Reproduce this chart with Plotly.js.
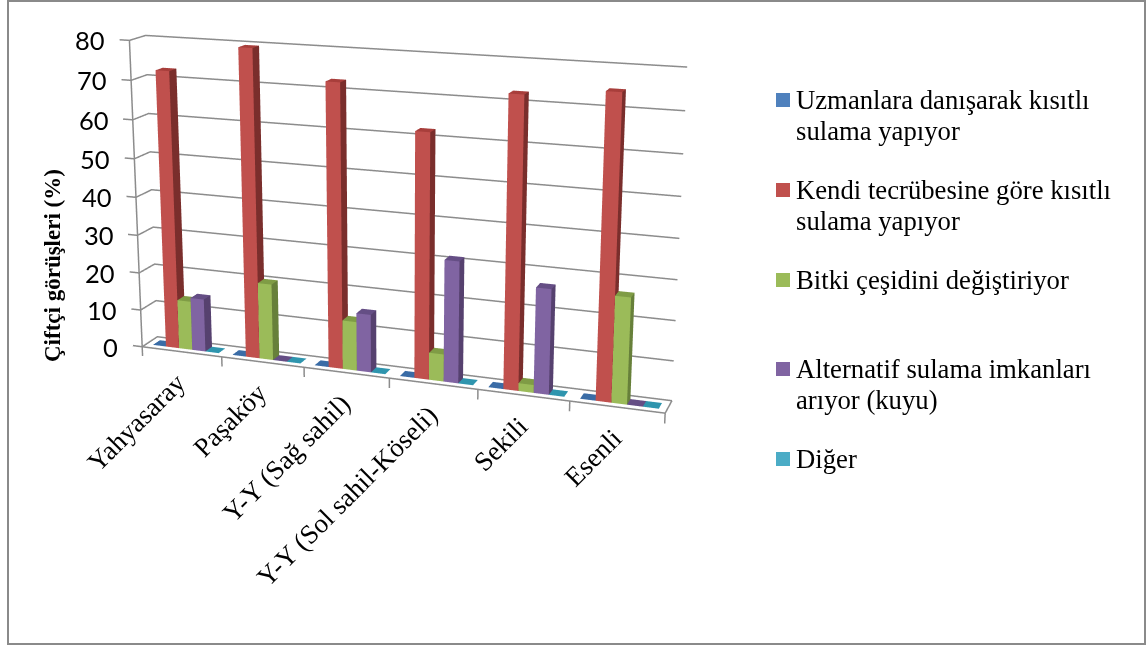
<!DOCTYPE html>
<html><head><meta charset="utf-8"><script src="https://cdn.plot.ly/plotly-3.0.1.min.js"></script>
<style>html,body{margin:0;background:#fff;overflow:hidden;width:1146px;height:646px}#c{position:absolute;left:0;top:-474px;width:1146px;height:1380px}</style></head><body><div id="c"></div>
<script>
const categories=["Yahyasaray","Paşaköy","Y-Y (Sağ sahil)","Y-Y (Sol sahil-Köseli)","Sekili","Esenli"];
const seriesNames=["Uzmanlara danışarak kısıtlı sulama yapıyor","Kendi tecrübesine göre kısıtlı sulama yapıyor","Bitki çeşidini değiştiriyor","Alternatif sulama imkanları arıyor (kuyu)","Diğer"];
const legendLines=[["Uzmanlara danışarak kısıtlı","sulama yapıyor"],["Kendi tecrübesine göre kısıtlı","sulama yapıyor"],["Bitki çeşidini değiştiriyor"],["Alternatif sulama imkanları","arıyor (kuyu)"],["Diğer"]];
const legendY=[100,190,280,369,459];
const colors=["#4F81BD","#C0504D","#9BBB59","#8064A2","#4BACC6"];
const sideColors=["#2F5A8C","#7A2E2C","#67803A","#56416F","#2C8299"];
const topColors=["#3A6CA6","#A83E3B","#7F9C45","#654E85","#2F95AE"];
const zTicks=[0,10,20,30,40,50,60,70,80];
const xBounds=[0,1,2,3,4,5,6];
const v0=[0,0,0,0,0,0];
const v1=[72.5,79.5,72.5,62,72.5,74.5];
const v2=[13,20,12.7,7,2,26.5];
const v3=[14,0,15,31,26.5,0];
const v4=[0,0,0,0,0,0];
const vals=[v0,v1,v2,v3,v4];
const H=1380,TOP=-474;
const py=p=>1-(p-TOP)/H;
const GRID='#8c8c8c';
const traces=[];
vals.forEach((vv,s)=>{
  const x=[],y=[],z=[],i=[],j=[],k=[],fc=[];
  vv.forEach((h,c)=>{
    const b=x.length,x0=c+0.085+s*0.166,x1=x0+0.166,y0=0.27,y1=0.73;
    [[x0,y0,0],[x1,y0,0],[x1,y1,0],[x0,y1,0],[x0,y0,h],[x1,y0,h],[x1,y1,h],[x0,y1,h]].forEach(p=>{x.push(p[0]);y.push(p[1]);z.push(p[2]);});
    const faces=[[[4,5,6],topColors[s]],[[4,6,7],topColors[s]],[[0,1,5],colors[s]],[[0,5,4],colors[s]],[[1,2,6],sideColors[s]],[[1,6,5],sideColors[s]]];
    faces.forEach(t=>{i.push(b+t[0][0]);j.push(b+t[0][1]);k.push(b+t[0][2]);fc.push(t[1]);});
  });
  traces.push({type:'mesh3d',x,y,z,i,j,k,facecolor:fc,flatshading:true,name:seriesNames[s],showlegend:false,showscale:false,hoverinfo:'name',
    lighting:{ambient:1,diffuse:0,specular:0,roughness:1,fresnel:0}});
});
// wall grid, floor edges and tick marks, from the axis values
const gx=[],gy=[],gz=[];
const seg=pts=>{pts.forEach(p=>{gx.push(p[0]);gy.push(p[1]);gz.push(p[2]);});gx.push(null);gy.push(null);gz.push(null);};
zTicks.forEach(t=>seg([[-0.12,0,t],[0,0,t],[0,1,t],[6,1,t]]));
seg([[0,0,0],[0,0,80]]);
seg([[0,0,0],[6,0,0],[6,1,0]]);
xBounds.forEach(b=>seg([[b,0,0],[b,0,-2.6]]));
traces.push({type:'scatter3d',mode:'lines',x:gx,y:gy,z:gz,line:{color:GRID,width:3},showlegend:false,hoverinfo:'skip',connectgaps:false});
const ax={showbackground:false,showspikes:false,zeroline:false,showgrid:false,showline:false,showticklabels:false,ticks:'',title:{text:''}};
const sceneAnn=[];
zTicks.forEach(t=>sceneAnn.push({x:0,y:0,z:t,text:String(t),showarrow:false,xanchor:'right',yanchor:'middle',xshift:-22,font:{family:'Lato,sans-serif',size:25.5,color:'#000'}}));
categories.forEach((c,n)=>sceneAnn.push({x:n+0.5,y:0,z:0,text:c,showarrow:false,textangle:-45,xanchor:'right',yanchor:'top',xshift:13,yshift:-13,font:{family:'"Liberation Serif",serif',size:27,color:'#000'}}));
const annotations=[{text:'<b>Çiftçi görüşleri (%)</b>',xref:'paper',yref:'paper',x:52/1146,y:py(266),xanchor:'center',yanchor:'middle',showarrow:false,textangle:-90,font:{size:23}}];
const shapes=[{type:'rect',xref:'paper',yref:'paper',x0:8/1146,x1:1145/1146,y0:py(644),y1:py(1),line:{color:'#8a8a8a',width:2}}];
legendLines.forEach((lines,n)=>{
  shapes.push({type:'rect',xref:'paper',yref:'paper',x0:776/1146,x1:790/1146,y0:py(legendY[n]+7),y1:py(legendY[n]-7),fillcolor:colors[n],line:{width:0}});
  lines.forEach((t,m)=>annotations.push({text:t,xref:'paper',yref:'paper',x:794/1146,y:py(legendY[n]+m*31),xanchor:'left',yanchor:'middle',showarrow:false,font:{size:26.7}}));
});
const layout={width:1146,height:H,margin:{l:0,r:0,t:0,b:0},paper_bgcolor:'#fff',showlegend:false,
 font:{family:'"Liberation Serif",serif',color:'#000'},
 scene:{domain:{x:[0,792/1146],y:[0,1]},aspectmode:'manual',aspectratio:{x:2.03*6.14/6,y:0.13,z:1.19*83/80},
  camera:{eye:{x:1.98,y:-5.45,z:1.57},center:{x:0.02,y:0,z:0.02},up:{x:0,y:0,z:1},projection:{type:'perspective'}},
  xaxis:{...ax,range:[-0.12,6.02]},
  yaxis:{...ax,range:[-0.02,1.02]},
  zaxis:{...ax,range:[-2.6,80.4]},
  annotations:sceneAnn},
 annotations,shapes};
Plotly.newPlot('c',traces,layout,{displayModeBar:false});
</script></body></html>
